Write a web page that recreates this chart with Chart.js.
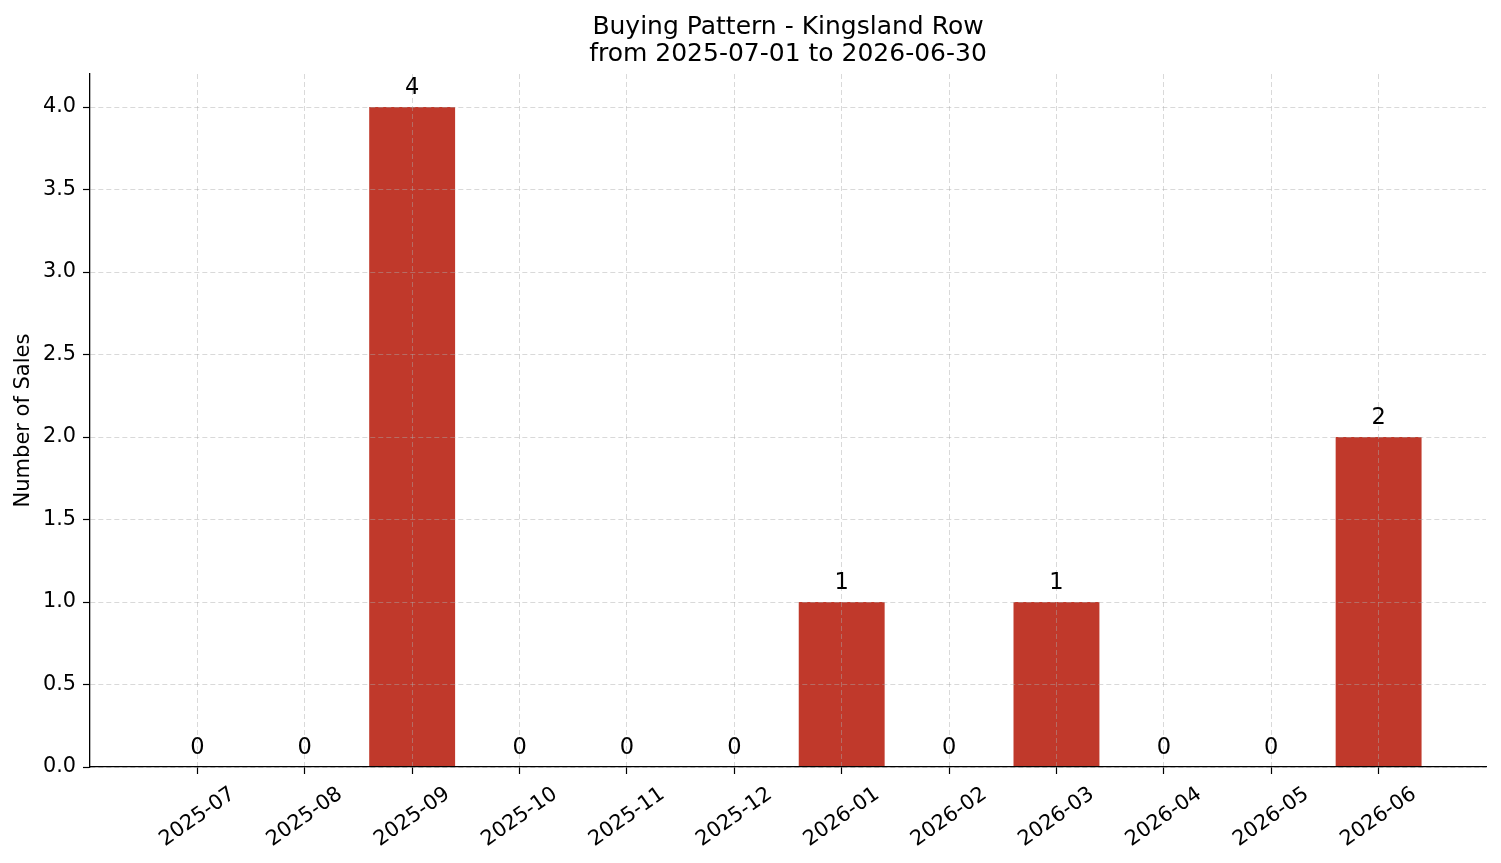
<!DOCTYPE html>
<html>
<head>
<meta charset="utf-8">
<title>Buying Pattern - Kingsland Row</title>
<script src="https://cdn.jsdelivr.net/npm/chart.js@4.4.1/dist/chart.umd.min.js"></script>
<style>
  html, body { margin: 0; padding: 0; background: #fff; }
</style>
</head>
<body>
<canvas id="buying-pattern" width="1501" height="863"></canvas>
<script>
const MONTHS = ["2025-07", "2025-08", "2025-09", "2025-10", "2025-11", "2025-12",
    "2026-01", "2026-02", "2026-03", "2026-04", "2026-05", "2026-06"]; // one bar per month
const SALES = [0, 0, 4, 0, 0, 0, 1, 0, 1, 0, 0, 2]; // number of sales in each month
const TITLE_LINES = ["Buying Pattern - Kingsland Row", "from 2025-07-01 to 2026-06-30"];

const FONT = '"DejaVu Sans", sans-serif';
const GRID = 'rgba(170, 170, 170, 0.45)';
const BAR_RED = '#c0392b';

// Month labels under the x axis, rotated and centred on the tick (matplotlib style)
const monthLabels = {
  id: 'monthLabels',
  afterDraw(chart) {
    const { ctx } = chart;
    const x = chart.scales.x;
    const ang = 35 * Math.PI / 180;
    ctx.save();
    ctx.font = '20.8px ' + FONT;
    ctx.fillStyle = '#000';
    ctx.textAlign = 'center';
    ctx.textBaseline = 'middle';
    MONTHS.forEach((m, i) => {
      const w = ctx.measureText(m).width;
      const boxH = w * Math.sin(ang) + 15 * Math.cos(ang);
      ctx.save();
      ctx.translate(x.getPixelForValue(i), x.top + 19 + boxH / 2);
      ctx.rotate(-ang);
      ctx.fillText(m, 0, 0);
      ctx.restore();
    });
    ctx.restore();
  }
};

// Count written above each bar, zeros included
const barValues = {
  id: 'barValues',
  afterDraw(chart) {
    const { ctx } = chart;
    const meta = chart.getDatasetMeta(0);
    ctx.save();
    ctx.font = '22.5px ' + FONT;
    ctx.fillStyle = '#000';
    ctx.textAlign = 'center';
    ctx.textBaseline = 'alphabetic';
    meta.data.forEach((bar, i) => {
      ctx.fillText(String(SALES[i]), bar.x, bar.y - 13);
    });
    ctx.restore();
  }
};

const config = {
  type: 'bar',
  data: {
    datasets: [{
      label: 'Number of Sales',
      data: SALES.map((v, i) => ({ x: i, y: v })),
      backgroundColor: BAR_RED,
      borderWidth: 0,
      barPercentage: 0.8,
      categoryPercentage: 1.0
    }]
  },
  options: {
    responsive: false,
    animation: false,
    layout: { padding: { left: 0, right: 15, top: 0, bottom: 0 } },
    plugins: {
      legend: { display: false },
      tooltip: { enabled: false },
      title: {
        display: true,
        text: TITLE_LINES,
        color: '#000',
        fullSize: false,
        font: { family: FONT, size: 25, weight: 'normal', lineHeight: 1.08 },
        padding: { top: 14, bottom: 6 }
      }
    },
    scales: {
      x: {
        type: 'linear',
        min: -1,
        max: 12,
        offset: false,
        afterBuildTicks: s => { s.ticks = MONTHS.map((_, i) => ({ value: i })); },
        afterFit: s => { s.height = 96; },
        ticks: { display: false },
        grid: { offset: false, color: GRID, lineWidth: 1, tickLength: 7, tickColor: '#000', tickWidth: 1.2, z: 1 },
        border: { color: '#000', width: 1.3, dash: [5, 3], z: 2 }
      },
      y: {
        min: 0,
        max: 4.2,
        afterFit: s => { s.width = 90; },
        ticks: {
          stepSize: 0.5,
          includeBounds: false,
          color: '#000',
          padding: 7,
          font: { family: FONT, size: 20.8 },
          callback: v => v.toFixed(1)
        },
        grid: { color: GRID, lineWidth: 1, tickLength: 7, tickColor: '#000', tickWidth: 1.2, z: 1 },
        border: { color: '#000', width: 1.3, dash: [5, 3], z: 2 },
        title: {
          display: true,
          text: 'Number of Sales',
          color: '#000',
          font: { family: FONT, size: 21, lineHeight: 1.2 },
          padding: { top: 11, bottom: 0 }
        }
      }
    }
  },
  plugins: [monthLabels, barValues]
};

const ctx = document.getElementById('buying-pattern').getContext('2d');
new Chart(ctx, config);
</script>
</body>
</html>
